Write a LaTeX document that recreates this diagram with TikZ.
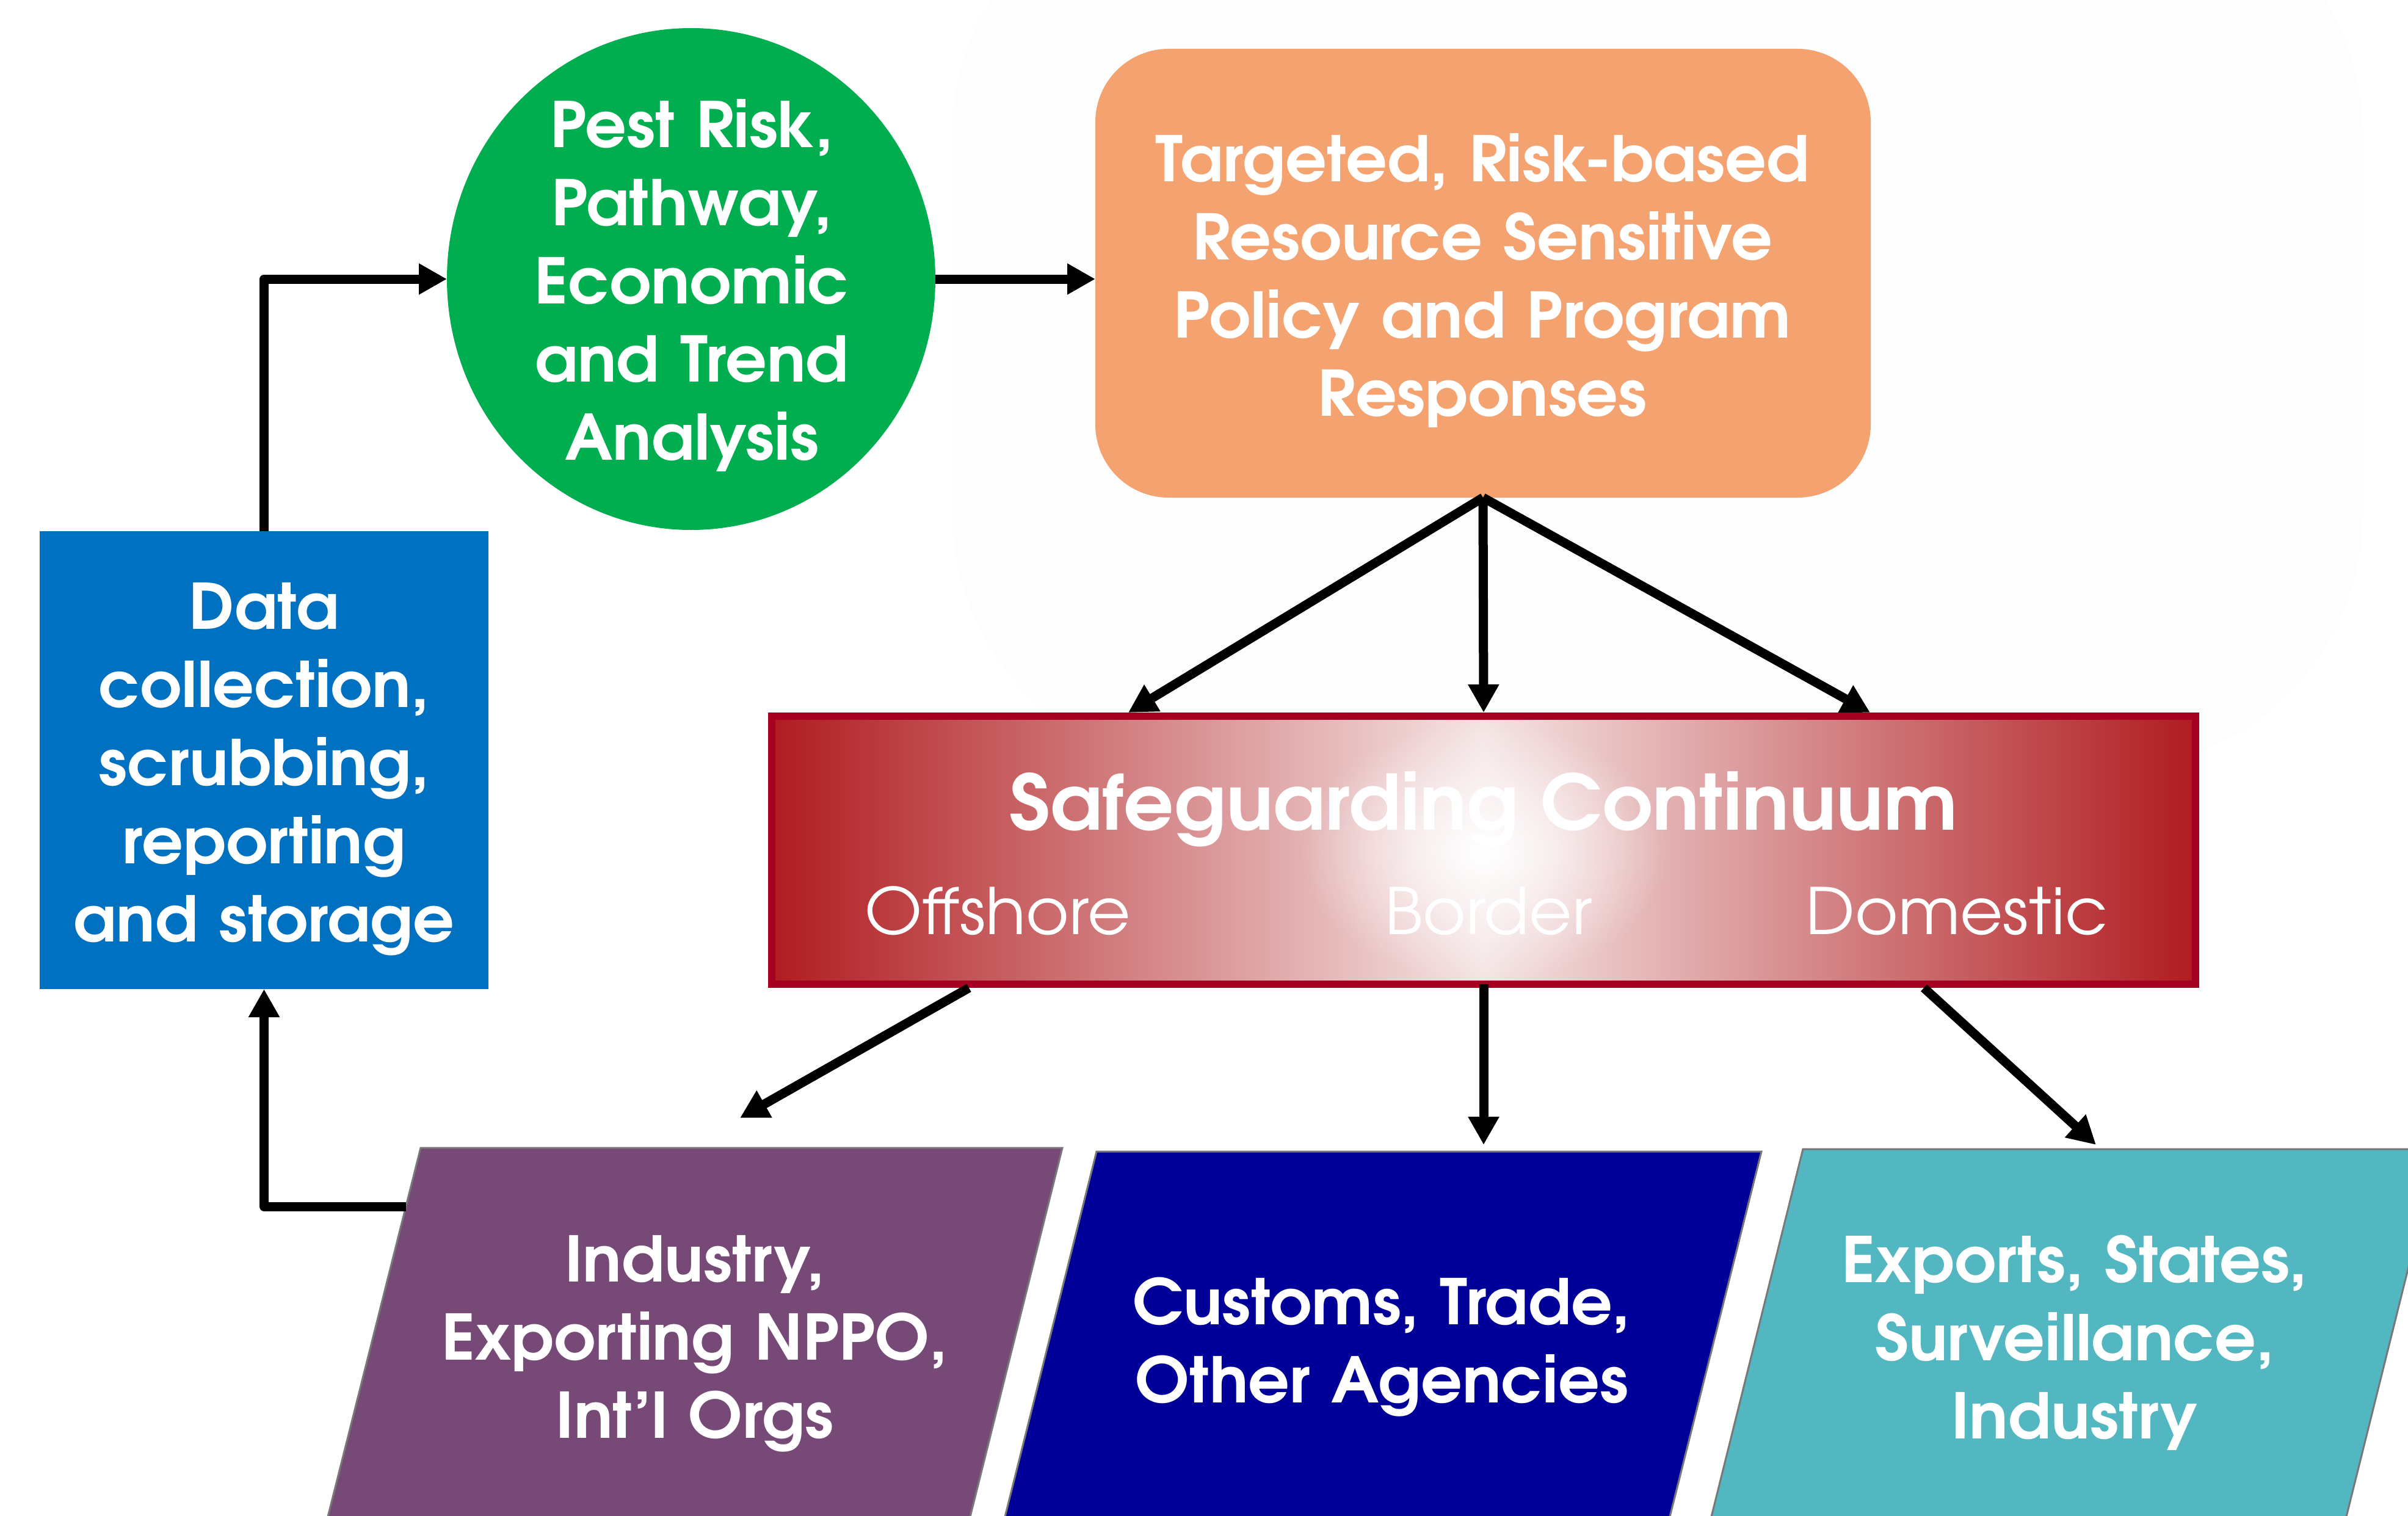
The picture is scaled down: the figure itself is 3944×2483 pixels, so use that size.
\documentclass[tikz,border=0pt]{standalone}
\usepackage{fontspec}
\newfontfamily\gothic[FakeStretch=1.03]{TeX Gyre Adventor}
\usetikzlibrary{arrows.meta,shapes.geometric,fadings}

\definecolor{cgreen}{RGB}{0,174,80}
\definecolor{corange}{RGB}{244,163,112}
\definecolor{cblue}{RGB}{0,112,192}
\definecolor{cpurple}{RGB}{118,73,118}
\definecolor{cnavy}{RGB}{0,0,153}
\definecolor{cteal}{RGB}{82,183,193}
\definecolor{cred}{RGB}{176,28,32}
\definecolor{credborder}{RGB}{165,0,33}
\definecolor{cpink}{RGB}{245,228,228}
\definecolor{cedge}{RGB}{120,120,120}
\definecolor{cfaint}{RGB}{253,253,253}

\tikzfading[name=glowfade, inner color=transparent!0, outer color=transparent!100]

\begin{document}
\begin{tikzpicture}[x=1pt,y=-1pt,
  every node/.style={outer sep=0pt, inner sep=0pt},
  conn/.style={line width=15pt, line join=round, -{Triangle[length=46pt,width=48pt]}},
  boldtxt/.style={text=white, font=\gothic\bfseries\fontsize{103}{128}\selectfont, align=center, text width=1400pt, anchor=base},
  titletxt/.style={text=white, font=\gothic\bfseries\fontsize{125}{150}\selectfont, anchor=base},
  lighttxt/.style={text=white, font=\gothic\fontsize{105}{120}\selectfont, anchor=base},
  para/.style={draw=cedge, line width=3pt},
]
\clip (0,0) rectangle (3944,2483);
\fill[white] (0,0) rectangle (3944,2483);
% faint background shape
\fill[cfaint, rounded corners=420pt] (1560,-200) rectangle (3870,1260);

% shapes
\node[fill=cblue, minimum width=735pt, minimum height=750pt] (data) at (432.5,1245) {};
\node[ellipse, fill=cgreen, minimum width=800pt, minimum height=822pt] (pest) at (1132,457) {};
\node[fill=corange, rounded corners=120pt, minimum width=1270pt, minimum height=735pt] (resp) at (2429,447.5) {};
\node[draw=credborder, line width=12pt, left color=cred, right color=cred, middle color=cpink,
      minimum width=2332pt, minimum height=439pt] (cont) at (2430,1392.5) {};
\fill[white, path fading=glowfade] (2430,1395) ellipse [x radius=300pt, y radius=215pt];

\path[para, fill=cpurple] (689,1880) -- (1740,1880) -- (1585,2500) -- (533,2500) -- cycle;
\path[para, fill=cnavy] (1796,1886) -- (2885,1886) -- (2731,2500) -- (1642,2500) -- cycle;
\path[para, fill=cteal] (2953,1882) -- (3993,1882) -- (3839,2500) -- (2799,2500) -- cycle;

% texts
\node[boldtxt] (datatxt) at (432.5,1030) {Data\\collection,\\scrubbing,\\reporting\\and storage};
\node[boldtxt] (pesttxt) at (1133,242) {Pest Risk,\\Pathway,\\Economic\\and Trend\\Analysis};
\node[boldtxt] (resptxt) at (2428,298) {Targeted, Risk-based\\Resource Sensitive\\Policy and Program\\Responses};
\node[boldtxt] (purtxt) at (1138,2099) {Industry,\\Exporting NPPO,\\Int’l Orgs};
\node[boldtxt] (navtxt) at (2263,2169) {Customs, Trade,\\Other Agencies};
\node[boldtxt] (teatxt) at (3398,2100) {Exports, States,\\Surveillance,\\Industry};
\node[titletxt] (conttitle) at (2430,1359) {Safeguarding Continuum};
\node[lighttxt] (off) at (1634,1530) {Offshore};
\node[lighttxt] (bor) at (2438,1530) {Border};
\node[lighttxt] (dom) at (3205,1530) {Domestic};

% coordinates
\coordinate (tL) at (1848,1167);
\coordinate (tC) at (2430,1167);
\coordinate (tR) at (3063,1167);
\coordinate (sL) at (1587,1618);
\coordinate (sR) at (3151,1618);
\coordinate (eL) at (1212,1831);
\coordinate (eC) at (2430,1875);
\coordinate (eR) at (3433,1875);
\coordinate (purW) at (665,1976);

% connectors
\draw[conn] (data.north) |- (pest.west);
\draw[conn] (pest.east) -- (pest.east -| resp.west);
\draw[conn] (resp.south) -- (tL);
\draw[conn] (resp.south) -- (tC);
\draw[conn] (resp.south) -- (tR);
\draw[conn] (sL) -- (eL);
\draw[conn] (cont.south) -- (eC);
\draw[conn] (sR) -- (eR);
\draw[conn] (purW) -| (data.south);
\end{tikzpicture}
\end{document}
